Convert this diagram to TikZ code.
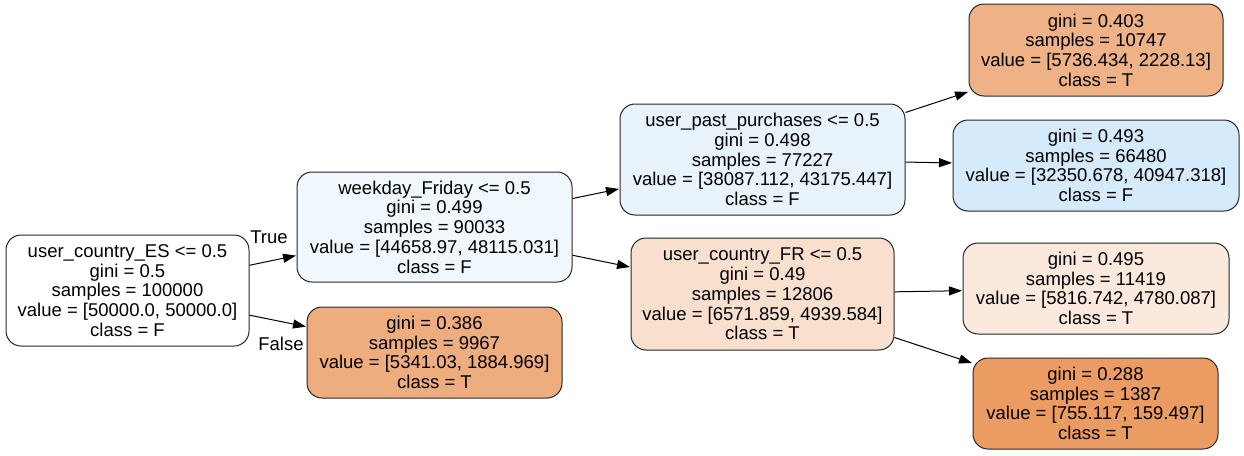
\documentclass[tikz,border=0pt]{standalone}
\usepackage{fontspec}
\setmainfont{Liberation Sans}
\usetikzlibrary{arrows.meta}
\definecolor{cRoot}{RGB}{255,255,255}
\definecolor{cWF}{RGB}{241,248,253}
\definecolor{cL386}{RGB}{238,173,127}
\definecolor{cUPP}{RGB}{232,243,252}
\definecolor{cFR}{RGB}{249,224,206}
\definecolor{cL403}{RGB}{239,178,134}
\definecolor{cL493}{RGB}{213,234,250}
\definecolor{cL495}{RGB}{250,233,220}
\definecolor{cL288}{RGB}{234,156,99}
\tikzset{
  tree/.style={draw=black!85, line width=1pt, rounded corners=15pt, align=center,
    inner sep=0pt, font=\fontsize{18.5}{19.7}\selectfont},
  edge/.style={line width=1pt, -{Triangle[length=13pt,width=9pt]}, shorten >=0.5pt},
  lbl/.style={font=\fontsize{18.5}{19.7}\selectfont, inner sep=0pt}
}
\begin{document}
\begin{tikzpicture}[x=1pt,y=-1pt]
\useasboundingbox (0,0) rectangle (1244,455);
\node[tree, fill=cRoot, minimum width=243pt, minimum height=111pt] (root) at (127.5,290.5)
  {user\_country\_ES <= 0.5\\gini = 0.5\\samples = 100000\\value = [50000.0, 50000.0]\\class = F};
\node[tree, fill=cWF, minimum width=275pt, minimum height=110pt] (wf) at (434.5,227)
  {weekday\_Friday <= 0.5\\gini = 0.499\\samples = 90033\\value = [44658.97, 48115.031]\\class = F};
\node[tree, fill=cL386, minimum width=255pt, minimum height=91pt] (l386) at (434.5,352.5)
  {gini = 0.386\\samples = 9967\\value = [5341.03, 1884.969]\\class = T};
\node[tree, fill=cUPP, minimum width=285pt, minimum height=111pt] (upp) at (762.5,159.5)
  {user\_past\_purchases <= 0.5\\gini = 0.498\\samples = 77227\\value = [38087.112, 43175.447]\\class = F};
\node[tree, fill=cFR, minimum width=263pt, minimum height=112pt] (fr) at (762.5,294)
  {user\_country\_FR <= 0.5\\gini = 0.49\\samples = 12806\\value = [6571.859, 4939.584]\\class = T};
\node[tree, fill=cL403, minimum width=254pt, minimum height=92pt] (l403) at (1096,50)
  {gini = 0.403\\samples = 10747\\value = [5736.434, 2228.13]\\class = T};
\node[tree, fill=cL493, minimum width=286pt, minimum height=91pt] (l493) at (1096,165.5)
  {gini = 0.493\\samples = 66480\\value = [32350.678, 40947.318]\\class = F};
\node[tree, fill=cL495, minimum width=266pt, minimum height=91pt] (l495) at (1096,288.5)
  {gini = 0.495\\samples = 11419\\value = [5816.742, 4780.087]\\class = T};
\node[tree, fill=cL288, minimum width=245pt, minimum height=91pt] (l288) at (1095.5,403.5)
  {gini = 0.288\\samples = 1387\\value = [755.117, 159.497]\\class = T};
\draw[edge] (root) -- (wf);
\draw[edge] (root) -- (l386);
\draw[edge] (wf) -- (upp);
\draw[edge] (wf) -- (fr);
\draw[edge] (upp) -- (l403);
\draw[edge] (upp) -- (l493);
\draw[edge] (fr) -- (l495);
\draw[edge] (fr) -- (l288);
\node[lbl] (tlabel) at (269,237) {True};
\node[lbl] (flabel) at (281,344) {False};
\end{tikzpicture}
\end{document}
